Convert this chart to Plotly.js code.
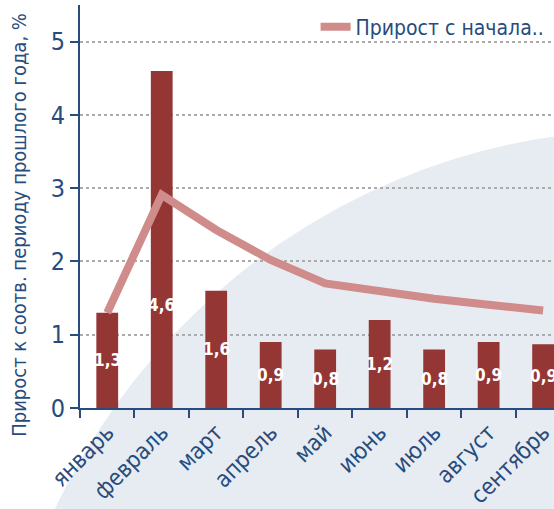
<!DOCTYPE html>
<html>
<head>
<meta charset="utf-8">
<script src="https://cdn.plot.ly/plotly-3.0.1.min.js"></script>
<style>
  html, body { margin: 0; padding: 0; background: #fff; }
  #grafico { width: 554px; height: 509px; }
</style>
</head>
<body>
<div id="grafico"></div>
<script>
// Datos del gráfico
const meses = ['январь', 'февраль', 'март', 'апрель', 'май', 'июнь', 'июль', 'август', 'сентябрь'];
const prirostPeriod = [1.3, 4.6, 1.6, 0.9, 0.8, 1.2, 0.8, 0.9, 0.87];
const prirostNachala = [1.3, 2.91, 2.43, 2.02, 1.7, 1.59, 1.49, 1.41, 1.33];
const tituloY = 'Прирост к соотв. периоду прошлого года, %';

const fuente = 'Liberation Sans Narrow, Arial Narrow, DejaVu Sans Condensed, sans-serif';
const azul = '#284C7D';

// Barras
const barras = {
    x: meses,
    y: prirostPeriod,
    type: 'bar',
    width: 0.4,
    marker: { color: '#943634' },
    showlegend: false,
    hoverinfo: 'x+y'
};

// Línea acumulada
const linea = {
    x: meses,
    y: prirostNachala,
    type: 'scatter',
    mode: 'lines',
    name: 'Прирост с начала..',
    line: { color: '#D08B8B', width: 8 }
};

// Etiquetas de las barras
const etiquetas = meses.map((m, i) => ({
    x: m,
    y: Math.min(prirostPeriod[i] / 2, 1.4),
    text: prirostPeriod[i].toFixed(1).replace('.', ','),
    showarrow: false,
    font: { family: fuente, size: 17, color: '#ffffff', weight: 'bold' }
}));

// Título del eje Y como anotación (para poder bajarlo un poco)
etiquetas.push({
    xref: 'paper',
    yref: 'paper',
    x: -0.16,
    y: 0.455,
    text: tituloY,
    textangle: -90,
    showarrow: false,
    font: { family: fuente, size: 20, color: azul }
});

const layout = {
    width: 554,
    height: 509,
    margin: { l: 80, r: 0, t: 5, b: 101, autoexpand: false },
    paper_bgcolor: 'white',
    plot_bgcolor: 'rgba(0,0,0,0)',
    font: { family: fuente, color: azul },
    xaxis: {
        type: 'category',
        range: [-0.5, 8.2],
        tickson: 'boundaries',
        ticks: 'outside',
        ticklen: 8,
        tickwidth: 2,
        tickcolor: azul,
        showline: true,
        linecolor: azul,
        linewidth: 2,
        tickangle: -45,
        tickfont: { size: 23, color: azul },
        showgrid: false,
        automargin: false
    },
    yaxis: {
        range: [0, 5.5],
        tickvals: [0, 1, 2, 3, 4, 5],
        ticks: 'outside',
        ticklen: 8,
        tickwidth: 2,
        tickcolor: azul,
        showline: true,
        linecolor: azul,
        linewidth: 2,
        tickfont: { size: 25, color: azul },
        gridcolor: '#ABABAB',
        gridwidth: 2,
        griddash: 'dot',
        zeroline: false,
        automargin: false
    },
    legend: {
        x: 0.497,
        xanchor: 'left',
        y: 0.945,
        yanchor: 'middle',
        bgcolor: 'rgba(0,0,0,0)',
        font: { size: 21, color: azul }
    },
    // Fondo elíptico claro
    shapes: [{
        type: 'circle',
        xref: 'paper',
        yref: 'paper',
        x0: -0.19,
        x1: 2.574,
        y0: -2.635,
        y1: 0.69,
        fillcolor: '#E7ECF3',
        line: { width: 0 },
        layer: 'below'
    }],
    annotations: etiquetas
};

Plotly.newPlot('grafico', [barras, linea], layout, { staticPlot: true });
</script>
</body>
</html>
